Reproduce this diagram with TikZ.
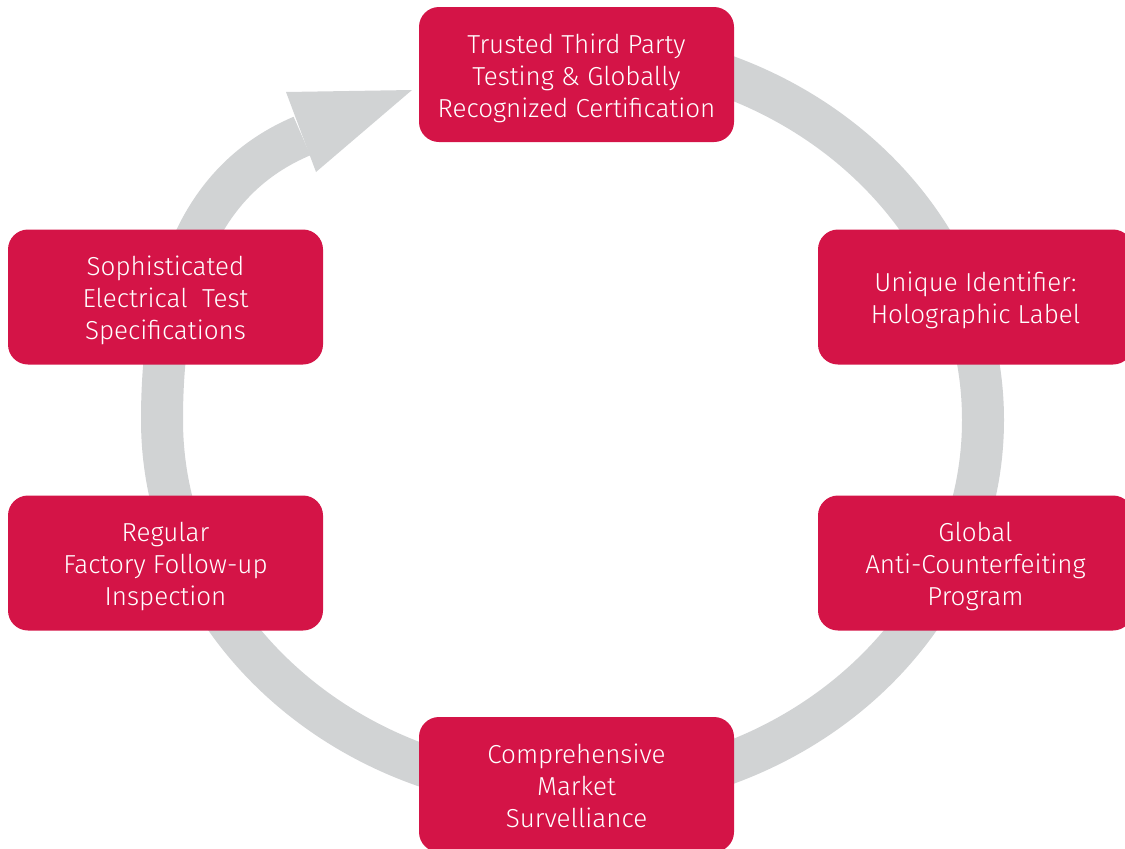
\documentclass[tikz,border=0pt]{standalone}
\usepackage{fontspec}
\setmainfont{Fira Sans Light}
\definecolor{ucred}{RGB}{212,20,71}
\definecolor{ringgray}{RGB}{209,211,212}
% #1: raise of the first baseline above the box centre
\newcommand{\boxlines}[2]{\raisebox{#1}[0pt][0pt]{\begin{tabular}[t]{@{}c@{}}#2\end{tabular}}}
\begin{document}
\begin{tikzpicture}[x=1pt,y=-1pt,
  box/.style={fill=ucred, rounded corners=20pt, minimum width=315pt, minimum height=135pt,
    align=center, text=white, font=\fontsize{26}{32}\selectfont, inner sep=0pt},
  ring/.style={draw=ringgray, line width=42pt}]
\useasboundingbox (0,0) rectangle (1125,849);
\clip (0,0) rectangle (1125,849);
% ring with arrow
\coordinate (ringstart) at (572.5,49);
\coordinate (shaftend) at (302,136);
\draw[ring] (ringstart) arc[start angle=-90, end angle=180, x radius=410.5, y radius=371]
  .. controls (162,280) and (200.8,178.9) .. (shaftend);
\coordinate (headA) at (286,92);
\coordinate (headTip) at (412,90);
\coordinate (headB) at (316,172);
\fill[ringgray] (headA) -- (headTip) -- (headB) -- cycle;
% boxes
\node[box] (cert) at (576.5,74.5) {\boxlines{21.3pt}{Trusted Third Party\\Testing \& Globally\\Recognized Certification}};
\node[box] (label) at (975.5,297) {\boxlines{5.3pt}{Unique Identifier:\\Holographic Label}};
\node[box] (anti) at (975.5,563) {\boxlines{21.3pt}{Global\\Anti-Counterfeiting\\Program}};
\node[box] (market) at (576.5,784.5) {\boxlines{21.3pt}{Comprehensive\\Market\\Survelliance}};
\node[box] (factory) at (165.5,563) {\boxlines{21.3pt}{Regular\\Factory Follow-up\\Inspection}};
\node[box] (spec) at (165.5,297) {\boxlines{21.3pt}{Sophisticated\\Electrical~ Test\\Specifications}};
\end{tikzpicture}
\end{document}
